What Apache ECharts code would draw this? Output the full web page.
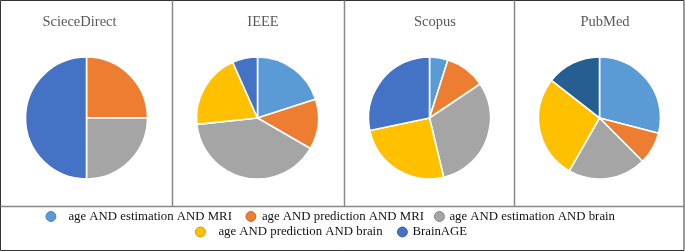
<!DOCTYPE html>
<html>
<head>
<meta charset="utf-8">
<script src="https://cdn.jsdelivr.net/npm/echarts@6/dist/echarts.min.js"></script>
<style>
  html, body { margin: 0; padding: 0; background: #fff; }
  #chart { width: 685px; height: 251px; }
</style>
</head>
<body>
<div id="chart"></div>
<script>
// search terms (legend order)
const categories = [
  'age AND estimation AND MRI',
  'age AND prediction AND MRI',
  'age AND estimation AND brain',
  'age AND prediction AND brain',
  'BrainAGE'
];
const databases = ['ScieceDirect', 'IEEE', 'Scopus', 'PubMed'];

// share of results per term (clockwise from 12 o'clock)
const scienceDirectValues = [0, 1, 1, 0, 2];
const ieeeValues = [6, 4, 12, 6, 2];
const scopusValues = [4.9, 10.7, 30.7, 25.5, 28.3];
const pubmedValues = [29, 8.5, 20.7, 27.3, 14.4];
const allValues = [scienceDirectValues, ieeeValues, scopusValues, pubmedValues];

const colors = ['#5B9BD5', '#ED7D31', '#A5A5A5', '#FFC000', '#4472C4'];
const lastColorPubmed = '#255E91';

const panelCenters = [86.5, 257.5, 429.5, 599.5];
const titleCenters = [74.5, 258, 430, 600];

const serif = '"Liberation Serif", "Times New Roman", serif';

const chart = echarts.init(document.getElementById('chart'), null, { renderer: 'canvas' });

const titles = databases.map((name, i) => ({
  text: name,
  left: titleCenters[i],
  top: 10,
  textAlign: 'center',
  textStyle: { fontFamily: serif, fontSize: 14.5, fontWeight: 'normal', color: '#595959' }
}));

const series = databases.map((name, i) => ({
  name: name,
  type: 'pie',
  center: [panelCenters[i], 118],
  radius: 61,
  startAngle: 90,
  clockwise: true,
  label: { show: false },
  labelLine: { show: false },
  silent: true,
  animation: false,
  itemStyle: { borderColor: '#fff', borderWidth: 1.6 },
  data: categories
    .map((c, k) => ({
      name: c,
      value: allValues[i][k],
      itemStyle: { color: (i === 3 && k === 4) ? lastColorPubmed : colors[k] }
    }))
    .filter(d => d.value > 0)
}));

// legend placement: [icon left, top, extra gap before text]
const legendPos = [
  [45.5, 210, 7.5],
  [245.5, 210, 1],
  [434, 210, 0],
  [195, 225.5, 8],
  [397, 225.5, 0]
];
const legendBorders = ['#41719C', '#AE5A21', '#787878', '#BC8C00', '#2F528F'];

const legends = categories.map((c, k) => ({
  data: [{
    name: c,
    icon: 'circle',
    itemStyle: { color: colors[k], borderColor: legendBorders[k], borderWidth: 0.8 }
  }],
  left: legendPos[k][0],
  top: legendPos[k][1],
  padding: 0,
  itemWidth: 10,
  itemHeight: 10,
  selectedMode: false,
  textStyle: {
    fontFamily: serif,
    fontSize: 12.8,
    color: '#111',
    padding: [0, 0, 0, legendPos[k][2]]
  }
}));

// panel frames
const frameLines = [
  [172, 0, 172, 206],
  [344, 0, 344, 206],
  [514, 0, 514, 206],
  [0, 206, 685, 206]
];

const option = {
  backgroundColor: '#fff',
  title: titles,
  legend: legends,
  series: series,
  graphic: [
    {
      type: 'rect',
      shape: { x: 0.5, y: 0.5, width: 683.5, height: 250 },
      style: { fill: 'none', stroke: '#333', lineWidth: 1 },
      silent: true
    }
  ].concat(frameLines.map(l => ({
    type: 'line',
    shape: { x1: l[0] + 0.5, y1: l[1] + 0.5, x2: l[2] + 0.5, y2: l[3] + 0.5 },
    style: { stroke: '#888', lineWidth: 1.5 },
    silent: true
  })))
};

chart.setOption(option);
</script>
</body>
</html>
